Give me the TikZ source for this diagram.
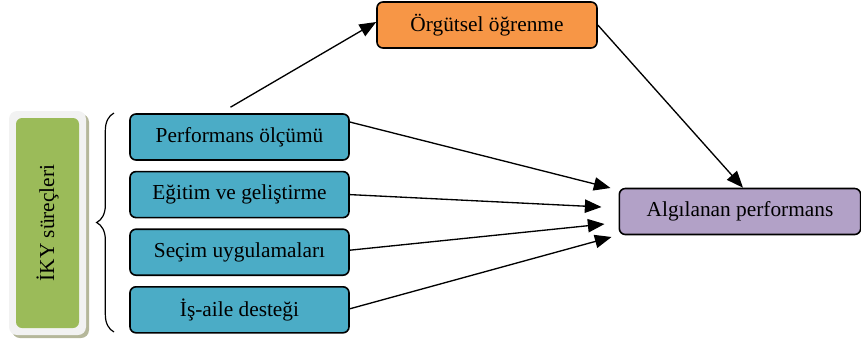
\documentclass[tikz,border=0pt]{standalone}
\usepackage{fontspec}
\setmainfont{Liberation Serif}
\usepackage{tikz}
\usetikzlibrary{arrows.meta,decorations.pathreplacing}
\usetikzlibrary{positioning}

\definecolor{surecmavi}{HTML}{4BACC6}
\definecolor{ogrenmeturuncu}{HTML}{F79646}
\definecolor{performansmor}{HTML}{B2A1C7}
\definecolor{ikyyesil}{HTML}{9BBB59}
\definecolor{cerceve}{HTML}{F2F2F2}
\definecolor{golge}{HTML}{B5B79A}

\tikzset{
	kutu/.style={draw=black, line width=1.2pt, rounded corners=4.5pt, minimum height=34.5pt,
		inner sep=0pt, font=\fontsize{16}{19}\selectfont},
	surec/.style={kutu, fill=surecmavi, minimum width=164.25pt},
	ok/.style={-{Triangle[length=12.5pt,width=10pt]}, line width=1pt},
}

\begin{document}
\begin{tikzpicture}[x=0.75pt,y=-0.75pt]
	\useasboundingbox (0,0) rectangle (861,347);

	% İKY kutusu ve çerçevesi
	\fill[golge, rounded corners=6pt] (12,114) rectangle (89,338);
	\fill[cerceve, rounded corners=6pt] (9,111) rectangle (86,335);
	\node[kutu, draw=none, fill=ikyyesil, rotate=90, minimum width=157.5pt, minimum height=47.25pt] (iky) at (47.5,223) {İKY süreçleri};
	\draw[line width=0.9pt, decorate, decoration={brace, amplitude=13pt}] (114,332) -- (114,113);

	% süreçler
	\node[surec] (perf) at (239.5,137) {Performans ölçümü};
	\node[surec, below=7.5pt of perf] (egitim) {Eğitim ve geliştirme};
	\node[surec, below=7.5pt of egitim] (secim) {Seçim uygulamaları};
	\node[surec, below=7.5pt of secim] (isaile) {İş-aile desteği};

	\node[kutu, fill=ogrenmeturuncu, minimum width=165pt] (orgut) at (487,25) {Örgütsel öğrenme};
	\node[kutu, fill=performansmor, minimum width=181pt] (algi) at (740,211.5) {Algılanan performans};

	% oklar
	\draw[ok] ([shift={(-9,-6)}]perf.north) -- ([shift={(0,-3)}]orgut.west);
	\draw[ok] (orgut.east) -- ([shift={(3,0)}]algi.north);
	\draw[ok] ([shift={(0,-15)}]perf.east) -- ([shift={(-8,-23.5)}]algi.west);
	\draw[ok] (egitim.east) -- ([shift={(-17,-4.5)}]algi.west);
	\draw[ok] ([shift={(0,-2)}]secim.east) -- ([shift={(-14,12.5)}]algi.west);
	\draw[ok] ([shift={(0,-1)}]isaile.east) -- ([shift={(-7,25.5)}]algi.west);
\end{tikzpicture}
\end{document}
